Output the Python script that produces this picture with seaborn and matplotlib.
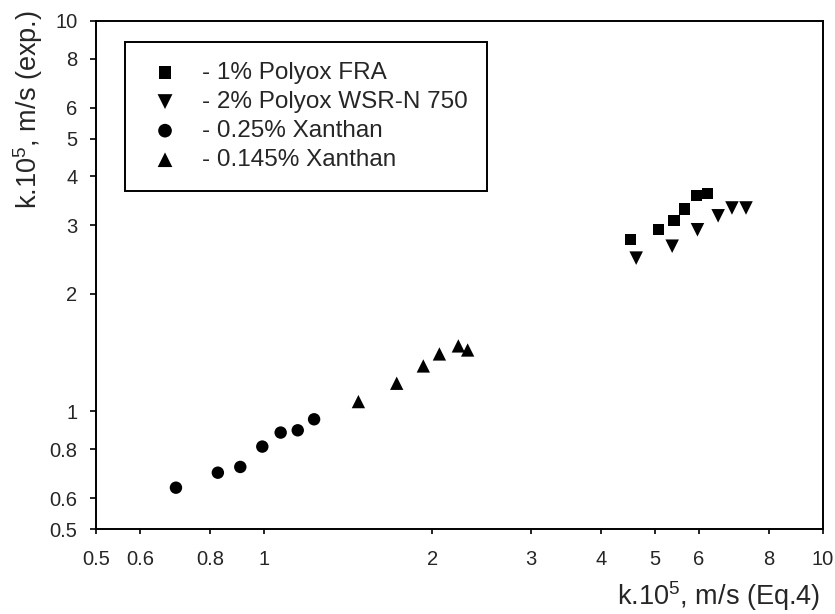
import matplotlib
matplotlib.use("Agg")
import matplotlib.pyplot as plt
import seaborn as sns
import pandas as pd
from matplotlib.ticker import FixedLocator, FixedFormatter, NullLocator

# Mass-transfer coefficients: predicted (Eq.4) vs experimental, both x 1e5 m/s
polyox_fra_x = [4.53, 5.07, 5.41, 5.66, 5.94, 6.22]
polyox_fra_y = [2.75, 2.93, 3.09, 3.30, 3.58, 3.62]

polyox_wsr_x = [4.63, 5.37, 5.96, 6.49, 6.87, 7.28]
polyox_wsr_y = [2.47, 2.65, 2.92, 3.17, 3.32, 3.32]

xanthan025_x = [0.695, 0.826, 0.906, 0.992, 1.070, 1.148, 1.228]
xanthan025_y = [0.638, 0.697, 0.721, 0.813, 0.883, 0.895, 0.955]

xanthan0145_x = [1.474, 1.726, 1.926, 2.058, 2.225, 2.312]
xanthan0145_y = [1.060, 1.181, 1.308, 1.404, 1.472, 1.437]

series_labels = ["- 1% Polyox FRA", "- 2% Polyox WSR-N 750",
                 "- 0.25% Xanthan", "- 0.145% Xanthan"]
tick_values = [0.5, 0.6, 0.8, 1, 2, 3, 4, 5, 6, 8, 10]
tick_labels = ["0.5", "0.6", "0.8", "1", "2", "3", "4", "5", "6", "8", "10"]

frames = []
for lab, xs, ys in zip(series_labels,
                       [polyox_fra_x, polyox_wsr_x, xanthan025_x, xanthan0145_x],
                       [polyox_fra_y, polyox_wsr_y, xanthan025_y, xanthan0145_y]):
    frames.append(pd.DataFrame({"x": xs, "y": ys, "series": lab}))
df = pd.concat(frames, ignore_index=True)

sns.set_style("ticks")
plt.rcParams["font.family"] = ["Liberation Sans", "DejaVu Sans"]
plt.rcParams["mathtext.default"] = "regular"

fig = plt.figure(figsize=(8.35, 6.14), dpi=100)
ax = fig.add_axes([0.115, 0.1384, 0.8707, 0.8274])

markers = dict(zip(series_labels, ["s", "v", "o", "^"]))
sizes_by_marker = {"s": 64, "v": 95, "o": 80, "^": 92}

for lab in series_labels:
    sub = df[df["series"] == lab]
    sns.scatterplot(data=sub, x="x", y="y", ax=ax, marker=markers[lab],
                    color="black", s=sizes_by_marker[markers[lab]],
                    edgecolor="none", label=lab, legend=True)

ax.set_xscale("log")
ax.set_yscale("log")
ax.set_xlim(0.5, 10)
ax.set_ylim(0.5, 10)

for axis in (ax.xaxis, ax.yaxis):
    axis.set_major_locator(FixedLocator(tick_values))
    axis.set_major_formatter(FixedFormatter(tick_labels))
    axis.set_minor_locator(NullLocator())

ax.tick_params(axis="both", which="major", direction="out",
               width=1.2, color="black", labelsize=14.5)
ax.tick_params(axis="x", length=3.8, pad=11.5)
ax.tick_params(axis="y", length=4.4, pad=9.0)

for sp in ax.spines.values():
    sp.set_visible(True)
    sp.set_linewidth(1.4)
    sp.set_color("black")

ax.set_xlabel("k.10$^5$, m/s (Eq.4)", fontsize=19.5)
ax.set_ylabel("k.10$^5$, m/s (exp.)", fontsize=19.5)
ax.xaxis.set_label_coords(0.996, -0.133)
ax.xaxis.label.set_horizontalalignment("right")
ax.xaxis.label.set_verticalalignment("center")
ax.yaxis.set_label_coords(-0.0935, 1.0217)
ax.yaxis.label.set_verticalalignment("center")
ax.yaxis.label.set_horizontalalignment("right")

leg = ax.legend(loc="upper left", bbox_to_anchor=(0.0399, 0.9587), frameon=True,
                fancybox=False, shadow=False, fontsize=17.5, borderpad=0.82,
                labelspacing=0.29, handletextpad=0.68, borderaxespad=0,
                handlelength=1.65, markerscale=1.1)
leg.get_frame().set_edgecolor("black")
leg.get_frame().set_linewidth(1.4)
leg.get_frame().set_alpha(1)

fig.savefig("out.png", dpi=100)
